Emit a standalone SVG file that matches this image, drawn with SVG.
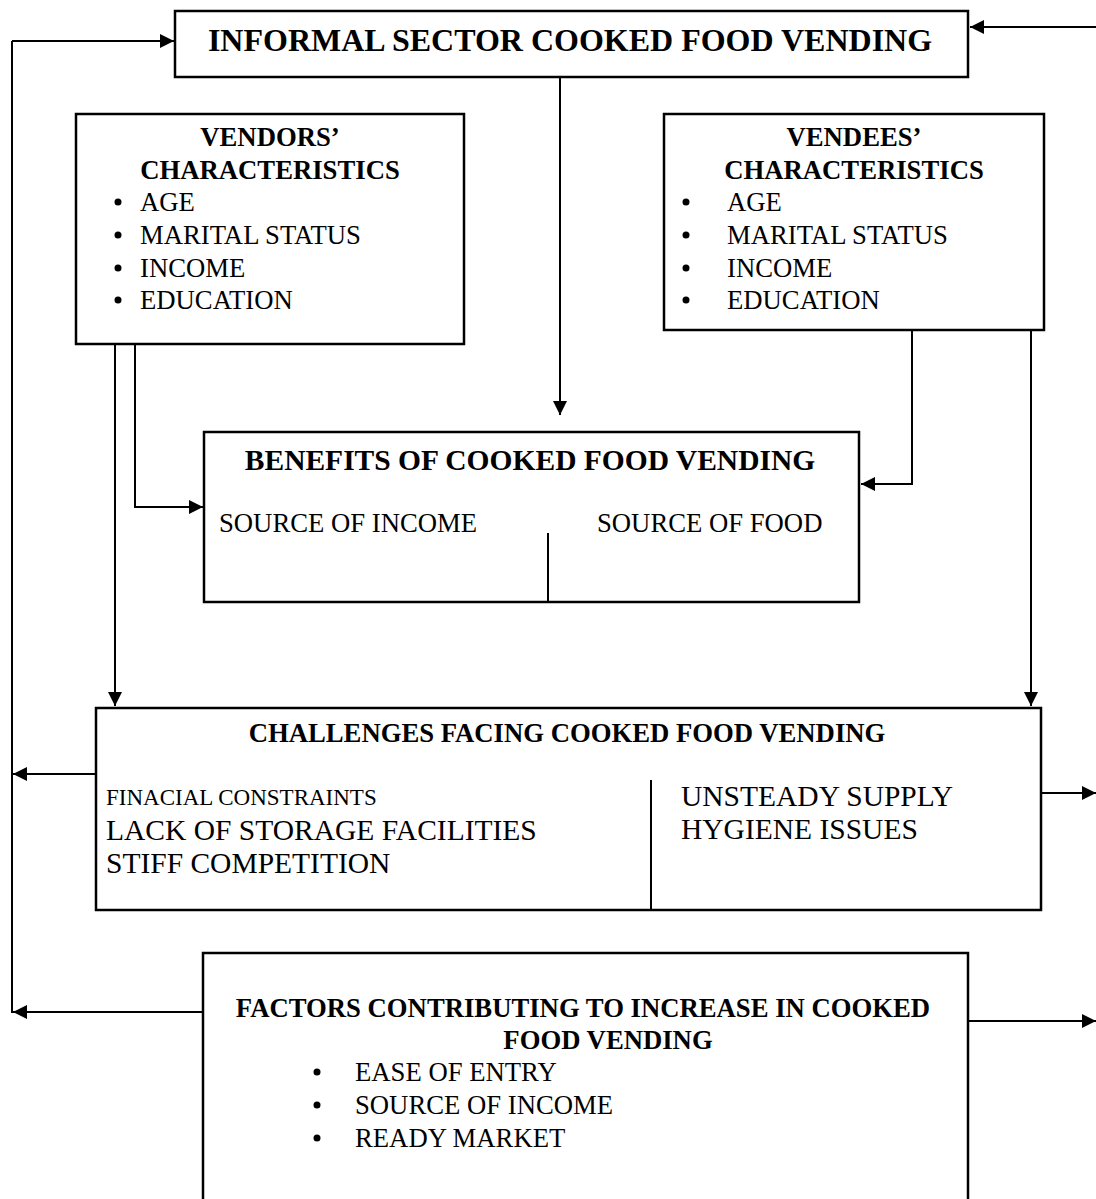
<svg xmlns="http://www.w3.org/2000/svg" width="1096" height="1199" viewBox="0 0 1096 1199">
<style>
.box{fill:#fff;stroke:#000;stroke-width:2.5}
.ln{fill:none;stroke:#000;stroke-width:2}
.t{font-family:"Liberation Serif","Times New Roman",serif;fill:#000}
.b{font-weight:bold}
.s27{font-size:26.7px}
.s23{font-size:23px}
.s29{font-size:29.5px}
</style>
<defs>
<marker id="ah" viewBox="0 0 10 10" refX="10" refY="5" markerWidth="14" markerHeight="14" markerUnits="userSpaceOnUse" orient="auto">
<path d="M0,0 L10,5 L0,10 Z" fill="#000"/>
</marker>
</defs>
<rect width="1096" height="1199" fill="#fff"/>
<g id="connectors">
<path class="ln" d="M12,41 L12,1013" />
<path class="ln" d="M12,41 L174,41" marker-end="url(#ah)"/>
<path class="ln" d="M1096,27 L970,27" marker-end="url(#ah)"/>
<path class="ln" d="M560,77 L560,415" marker-end="url(#ah)"/>
<path class="ln" d="M115,344 L115,706" marker-end="url(#ah)"/>
<path class="ln" d="M135,344 L135,507 L203,507" marker-end="url(#ah)"/>
<path class="ln" d="M912,330 L912,484 L861,484" marker-end="url(#ah)"/>
<path class="ln" d="M1031,330 L1031,706" marker-end="url(#ah)"/>
<path class="ln" d="M96,774 L13,774" marker-end="url(#ah)"/>
<path class="ln" d="M1041,793 L1096,793" marker-end="url(#ah)"/>
<path class="ln" d="M203,1012 L13,1012" marker-end="url(#ah)"/>
<path class="ln" d="M968,1021 L1096,1021" marker-end="url(#ah)"/>
</g>
<g id="informal">
<rect class="box" x="175" y="11" width="793" height="66"/>
<text class="t b" x="570" y="51" font-size="32" text-anchor="middle">INFORMAL SECTOR COOKED FOOD VENDING</text>
</g>
<g id="vendors">
<rect class="box" x="76" y="114" width="388" height="230"/>
<text class="t b s27" x="270" y="146" text-anchor="middle">VENDORS’</text>
<text class="t b s27" x="270" y="179" text-anchor="middle">CHARACTERISTICS</text>
<g class="t s27">
<circle cx="118" cy="202" r="3.5"/><text x="140" y="211">AGE</text>
<circle cx="118" cy="235" r="3.5"/><text x="140" y="244">MARITAL STATUS</text>
<circle cx="118" cy="268" r="3.5"/><text x="140" y="277">INCOME</text>
<circle cx="118" cy="300" r="3.5"/><text x="140" y="309">EDUCATION</text>
</g>
</g>
<g id="vendees">
<rect class="box" x="664" y="114" width="380" height="216"/>
<text class="t b s27" x="854" y="146" text-anchor="middle">VENDEES’</text>
<text class="t b s27" x="854" y="179" text-anchor="middle">CHARACTERISTICS</text>
<g class="t s27">
<circle cx="686" cy="202" r="3.5"/><text x="727" y="211">AGE</text>
<circle cx="686" cy="235" r="3.5"/><text x="727" y="244">MARITAL STATUS</text>
<circle cx="686" cy="268" r="3.5"/><text x="727" y="277">INCOME</text>
<circle cx="686" cy="300" r="3.5"/><text x="727" y="309">EDUCATION</text>
</g>
</g>
<g id="benefits">
<rect class="box" x="204" y="432" width="655" height="170"/>
<text class="t b s29" x="530" y="470" text-anchor="middle">BENEFITS OF COOKED FOOD VENDING</text>
<text class="t s27" x="219" y="532">SOURCE OF INCOME</text>
<text class="t s27" x="597" y="532">SOURCE OF FOOD</text>
<path class="ln" d="M548,533 L548,602"/>
</g>
<g id="challenges">
<rect class="box" x="96" y="708" width="945" height="202"/>
<text class="t b s27" x="567" y="742" text-anchor="middle">CHALLENGES FACING COOKED FOOD VENDING</text>
<text class="t s23" x="106" y="805">FINACIAL CONSTRAINTS</text>
<text class="t s29" x="106" y="840">LACK OF STORAGE FACILITIES</text>
<text class="t s29" x="106" y="873">STIFF COMPETITION</text>
<text class="t s29" x="681" y="806">UNSTEADY SUPPLY</text>
<text class="t s29" x="681" y="839">HYGIENE ISSUES</text>
<path class="ln" d="M651,780 L651,910"/>
</g>
<g id="factors">
<rect class="box" x="203" y="953" width="765" height="260"/>
<text class="t b s27" x="583" y="1017" text-anchor="middle">FACTORS CONTRIBUTING TO INCREASE IN COOKED</text>
<text class="t b s27" x="608" y="1049" text-anchor="middle">FOOD VENDING</text>
<g class="t s27">
<circle cx="317" cy="1072" r="3.5"/><text x="355" y="1081">EASE OF ENTRY</text>
<circle cx="317" cy="1105" r="3.5"/><text x="355" y="1114">SOURCE OF INCOME</text>
<circle cx="317" cy="1138" r="3.5"/><text x="355" y="1147">READY MARKET</text>
</g>
</g>
</svg>
